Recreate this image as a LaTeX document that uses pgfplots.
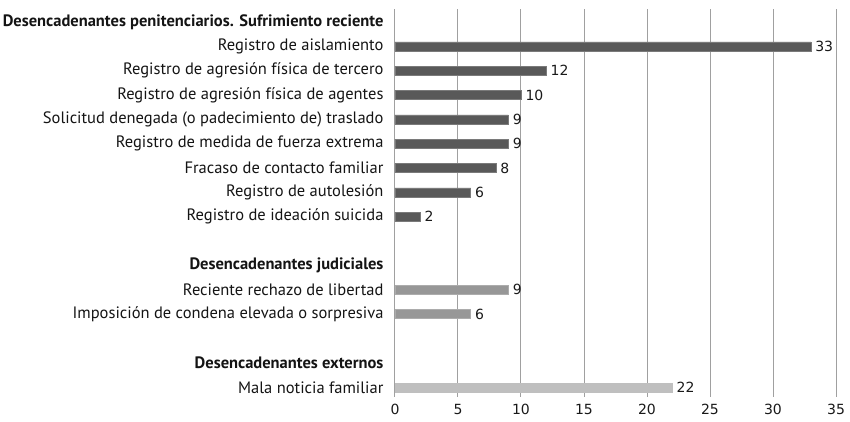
\documentclass[border=0pt]{standalone}
\usepackage{fontspec}
\setmainfont{PT Sans}
\newfontfamily\numfont{DejaVu Sans}
\usepackage{pgfplots}
\pgfplotsset{compat=1.18}
\definecolor{bdark}{HTML}{595959}
\definecolor{bmid}{HTML}{979797}
\definecolor{blight}{HTML}{BFBFBF}
\definecolor{gridc}{HTML}{A0A0A0}
\begin{document}
\begin{tikzpicture}
\begin{axis}[
  at={(0,0)}, anchor=south west,
  scale only axis, width=441pt, height=388pt,
  xmin=0, xmax=35, ymin=-0.53, ymax=15.4, y dir=reverse,
  xbar, bar width=9pt, bar shift=0pt,
  axis line style={draw=none},
  major tick length=0pt,
  xmajorgrids, grid style={gridc, line width=1pt},
  xtick={0,5,...,35},
  ytick={0,...,15},
  yticklabels={{\textbf{Desencadenantes penitenciarios. Sufrimiento reciente}},
    {Registro de aislamiento},
    {Registro de agresión física de tercero},
    {Registro de agresión física de agentes},
    {Solicitud denegada (o padecimiento de) traslado},
    {Registro de medida de fuerza extrema},
    {Fracaso de contacto familiar},
    {Registro de autolesión},
    {Registro de ideación suicida},
    {},
    {\textbf{Desencadenantes judiciales}},
    {Reciente rechazo de libertad},
    {Imposición de condena elevada o sorpresiva},
    {},
    {\textbf{Desencadenantes externos}},
    {Mala noticia familiar}},
  yticklabel style={font=\fontsize{16.5}{19}\selectfont, text=black!92, anchor=east, xshift=-8pt},
  xticklabel style={font=\numfont\fontsize{14}{16}\selectfont, text=black!90, yshift=-4pt},
  /pgf/number format/assume math mode=true,
  nodes near coords,
  nodes near coords style={font=\numfont\fontsize{14}{16}\selectfont, text=black!90, anchor=west, xshift=1pt},
  clip=false,
]
\addplot[fill=bdark, draw=bdark!80!white] coordinates {(33,1) (12,2) (10,3) (9,4) (9,5) (8,6) (6,7) (2,8)};
\addplot[fill=bmid, draw=bmid!80!white] coordinates {(9,11) (6,12)};
\addplot[fill=blight, draw=blight] coordinates {(22,15)};
\end{axis}
\pgfresetboundingbox
\path (-395pt,-24pt) rectangle (455pt,397pt);
\end{tikzpicture}
\end{document}
